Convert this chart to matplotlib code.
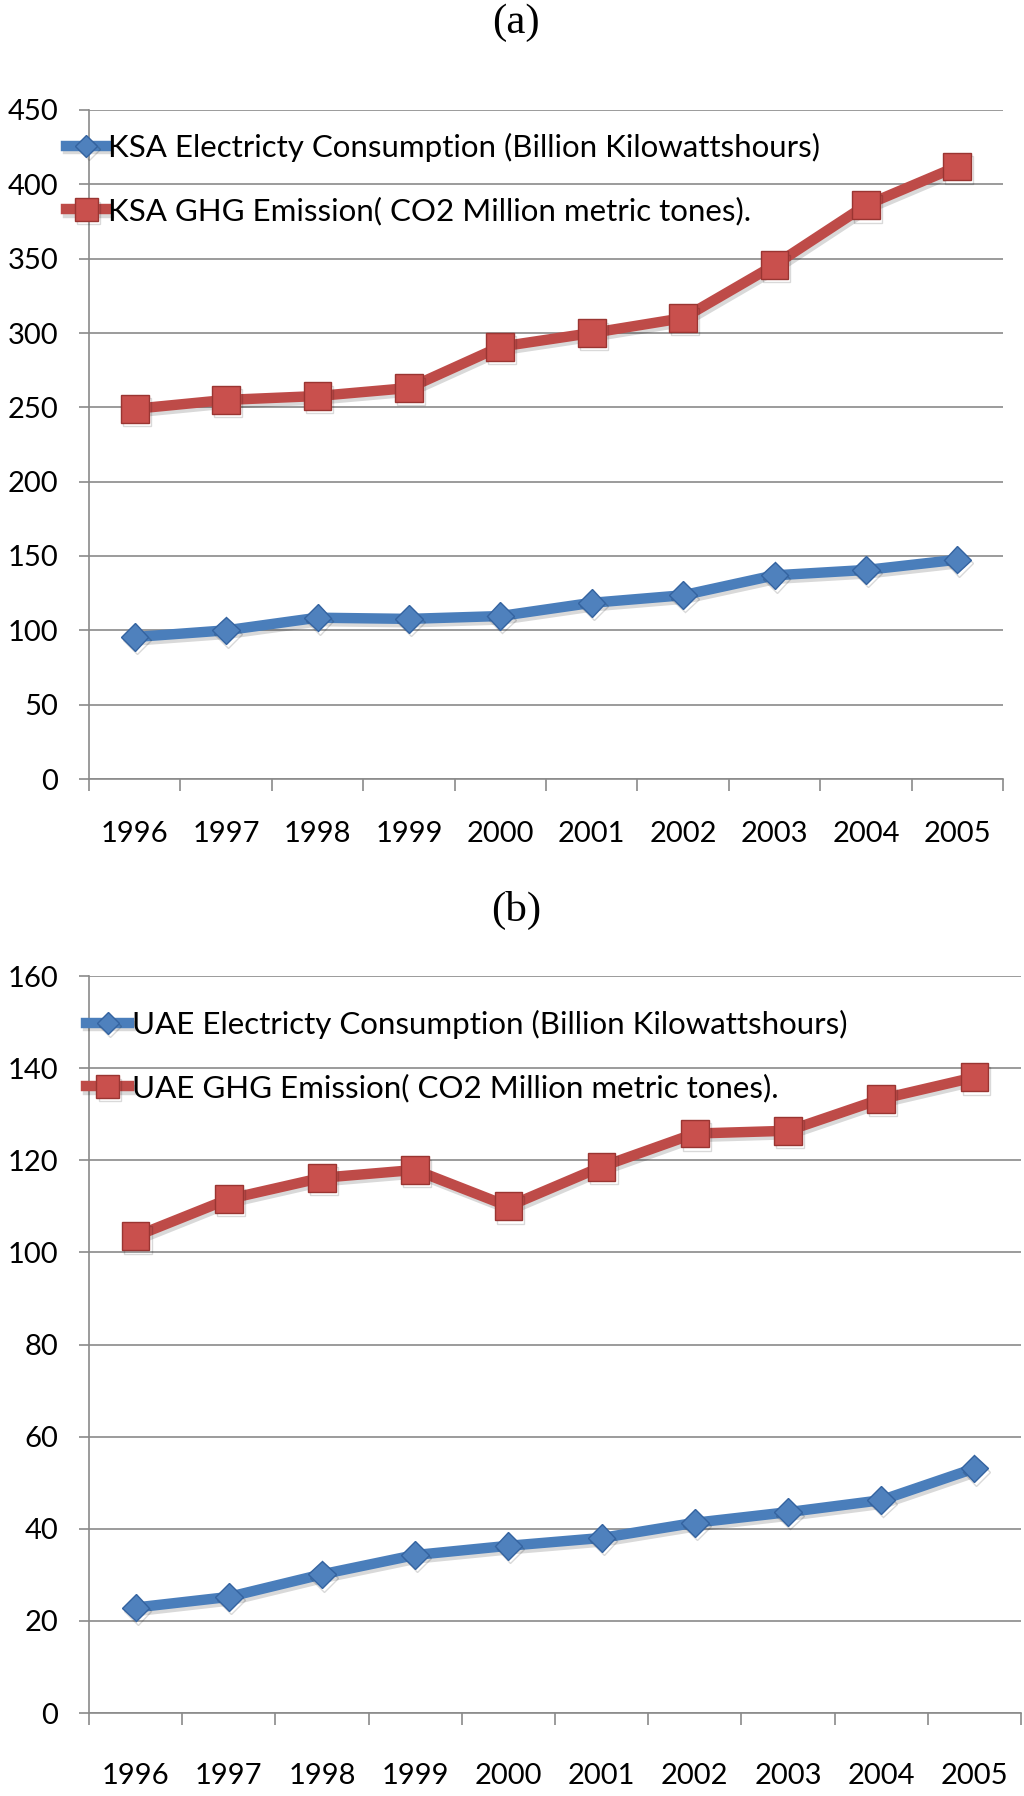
import matplotlib
matplotlib.use("Agg")
import matplotlib.pyplot as plt
import matplotlib.patheffects as pe
from matplotlib.ticker import FixedLocator, NullFormatter

# ---------------- data ----------------
years = ["1996", "1997", "1998", "1999", "2000", "2001", "2002", "2003", "2004", "2005"]

ksa_elec = [95.5, 100, 108.5, 107.7, 109.6, 118.5, 123.6, 137, 140.6, 147.5]
ksa_ghg = [249, 255, 257.6, 263, 290.8, 300, 310, 345.7, 386, 412]

uae_elec = [22.9, 25.2, 30.1, 34.3, 36.3, 38, 41.3, 43.6, 46.2, 53.1]
uae_ghg = [103.5, 111.6, 116.2, 117.9, 110, 118.6, 125.8, 126.4, 133.3, 138]

ksa_labels = ["KSA Electricty Consumption (Billion Kilowattshours)",
              "KSA GHG Emission( CO2 Million metric tones)."]
uae_labels = ["UAE Electricty Consumption (Billion Kilowattshours)",
              "UAE GHG Emission( CO2 Million metric tones)."]

ksa_yticks = [0, 50, 100, 150, 200, 250, 300, 350, 400, 450]
uae_yticks = [0, 20, 40, 60, 80, 100, 120, 140, 160]
panel_titles = ["(a)", "(b)"]

# ---------------- style ----------------
W, H = 1024, 1796
plt.rcParams['font.family'] = ['Lato', 'DejaVu Sans']
BLUE_LINE = "#4A7EBB"
BLUE_FILL = "#4F81BD"
BLUE_EDGE = "#3463A0"
RED_LINE = "#BE4B48"
RED_FILL = "#C9504D"
RED_EDGE = "#9A3532"
GRID = "#8A8A8A"
TICK_FS = 21
LEG_FS = 22.5

fig = plt.figure(figsize=(W / 100, H / 100), dpi=100)


def fx(px):
    return px / W


def fy(py):
    return 1 - py / H


def make_panel(rect, elec, ghg, labels, yticks, ymax, leg_x, leg_yc,
               lab_spacing, hlen, htpad, xpad):
    ax = fig.add_axes(rect)
    x = list(range(len(years)))
    shadow = [pe.SimpleLineShadow(offset=(1.5, -2.5), shadow_color="#000000", alpha=0.15),
              pe.Normal()]
    l1, = ax.plot(x, elec, color=BLUE_LINE, lw=7.5, marker="D", ms=14,
                  mfc=BLUE_FILL, mec=BLUE_EDGE, mew=1.0, solid_joinstyle="round",
                  path_effects=shadow, zorder=3, label=labels[0])
    l2, = ax.plot(x, ghg, color=RED_LINE, lw=7.5, marker="s", ms=20,
                  mfc=RED_FILL, mec=RED_EDGE, mew=1.0, solid_joinstyle="round",
                  path_effects=shadow, zorder=4, label=labels[1])
    ax.set_xlim(-0.5, len(years) - 0.5)
    ax.set_ylim(0, ymax)
    ax.set_yticks(yticks)
    ax.set_yticklabels([str(v) for v in yticks])
    ax.set_xticks(x)
    ax.set_xticklabels(years)
    ax.xaxis.set_minor_locator(FixedLocator([i - 0.5 for i in range(len(years) + 1)]))
    ax.xaxis.set_minor_formatter(NullFormatter())
    ax.tick_params(axis="x", which="major", length=0, pad=xpad, labelsize=TICK_FS)
    ax.tick_params(axis="x", which="minor", length=8.5, width=1.2, color=GRID,
                   direction="out")
    ax.tick_params(axis="y", length=7, width=1.2, color=GRID, direction="out",
                   pad=15, labelsize=TICK_FS)
    ax.grid(axis="y", color=GRID, lw=1.2)
    ax.set_axisbelow(True)
    for s in ["top", "right"]:
        ax.spines[s].set_visible(False)
    for s in ["left", "bottom"]:
        ax.spines[s].set_color(GRID)
        ax.spines[s].set_linewidth(1.2)
    leg = ax.legend(handles=[l1, l2], loc="center left",
                    bbox_to_anchor=(fx(leg_x), fy(leg_yc)),
                    bbox_transform=fig.transFigure, frameon=False,
                    fontsize=LEG_FS, borderpad=0, borderaxespad=0,
                    handlelength=hlen, handletextpad=htpad,
                    labelspacing=lab_spacing, markerscale=0.8)
    leg.set_zorder(5)
    return ax


# panel (a): axes px x 89..1003, y 110..779
make_panel([fx(89), fy(779), fx(1003 - 89), (779 - 110) / H],
           ksa_elec, ksa_ghg, ksa_labels, ksa_yticks, 450,
           66, 179, 1.12, 1.31, 0.03, 30)
# panel (b): axes px x 89..1021, y 976..1713
make_panel([fx(89), fy(1713), fx(1021 - 89), (1713 - 976) / H],
           uae_elec, uae_ghg, uae_labels, uae_yticks, 160,
           86, 1056, 1.12, 1.38, 0.1, 36)

fig.text(fx(516), fy(23), panel_titles[0], ha="center", va="center",
         family="Liberation Serif", fontsize=31)
fig.text(fx(516), fy(910), panel_titles[1], ha="center", va="center",
         family="Liberation Serif", fontsize=31)

fig.savefig("out.png", dpi=100)
